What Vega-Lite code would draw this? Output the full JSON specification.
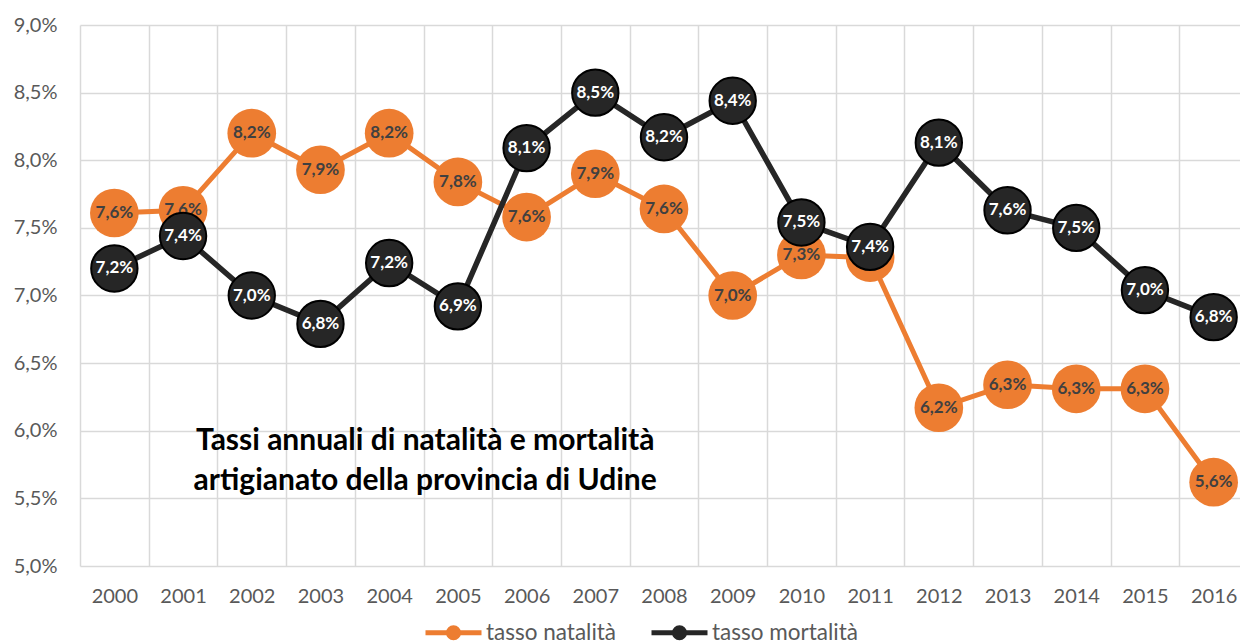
{
  "$schema": "https://vega.github.io/schema/vega-lite/v6.json",
  "width": 1160,
  "height": 541,
  "autosize": {"type": "none"},
  "padding": {"left": 80, "top": 25, "right": 0, "bottom": 77},
  "background": "white",
  "config": {
    "locale": {"number": {"decimal": ",", "thousands": ".", "grouping": [3], "currency": ["€", ""]}},
    "font": "Lato",
    "view": {"stroke": null},
    "axis": {"gridColor": "#D9D9D9", "gridWidth": 1.5, "domain": false, "ticks": false, "labelFont": "Lato", "labelFontSize": 20, "labelColor": "#595959", "title": null}
  },
  "data": {"values": [
    {"anno": "2000", "serie": "tasso natalità", "valore": 0.0761},
    {"anno": "2001", "serie": "tasso natalità", "valore": 0.0763},
    {"anno": "2002", "serie": "tasso natalità", "valore": 0.0820},
    {"anno": "2003", "serie": "tasso natalità", "valore": 0.0793},
    {"anno": "2004", "serie": "tasso natalità", "valore": 0.0820},
    {"anno": "2005", "serie": "tasso natalità", "valore": 0.0784},
    {"anno": "2006", "serie": "tasso natalità", "valore": 0.0758},
    {"anno": "2007", "serie": "tasso natalità", "valore": 0.0790},
    {"anno": "2008", "serie": "tasso natalità", "valore": 0.0764},
    {"anno": "2009", "serie": "tasso natalità", "valore": 0.0700},
    {"anno": "2010", "serie": "tasso natalità", "valore": 0.0730},
    {"anno": "2011", "serie": "tasso natalità", "valore": 0.0728},
    {"anno": "2012", "serie": "tasso natalità", "valore": 0.0617},
    {"anno": "2013", "serie": "tasso natalità", "valore": 0.0634},
    {"anno": "2014", "serie": "tasso natalità", "valore": 0.0631},
    {"anno": "2015", "serie": "tasso natalità", "valore": 0.0631},
    {"anno": "2016", "serie": "tasso natalità", "valore": 0.0562},
    {"anno": "2000", "serie": "tasso mortalità", "valore": 0.0720},
    {"anno": "2001", "serie": "tasso mortalità", "valore": 0.0744},
    {"anno": "2002", "serie": "tasso mortalità", "valore": 0.0700},
    {"anno": "2003", "serie": "tasso mortalità", "valore": 0.0679},
    {"anno": "2004", "serie": "tasso mortalità", "valore": 0.0724},
    {"anno": "2005", "serie": "tasso mortalità", "valore": 0.0692},
    {"anno": "2006", "serie": "tasso mortalità", "valore": 0.0809},
    {"anno": "2007", "serie": "tasso mortalità", "valore": 0.0850},
    {"anno": "2008", "serie": "tasso mortalità", "valore": 0.0817},
    {"anno": "2009", "serie": "tasso mortalità", "valore": 0.0844},
    {"anno": "2010", "serie": "tasso mortalità", "valore": 0.0754},
    {"anno": "2011", "serie": "tasso mortalità", "valore": 0.0736},
    {"anno": "2012", "serie": "tasso mortalità", "valore": 0.0813},
    {"anno": "2013", "serie": "tasso mortalità", "valore": 0.0763},
    {"anno": "2014", "serie": "tasso mortalità", "valore": 0.0750},
    {"anno": "2015", "serie": "tasso mortalità", "valore": 0.0704},
    {"anno": "2016", "serie": "tasso mortalità", "valore": 0.0684}
  ]},
  "encoding": {
    "x": {"field": "anno", "type": "ordinal",
      "scale": {"type": "band", "paddingInner": 0, "paddingOuter": 0, "range": [0, 1168]},
      "axis": {"grid": true, "tickBand": "extent", "labelAngle": 0, "labelPadding": 20}},
    "y": {"field": "valore", "type": "quantitative",
      "scale": {"domain": [0.05, 0.09], "zero": false, "nice": false},
      "axis": {"grid": true, "values": [0.05, 0.055, 0.06, 0.065, 0.07, 0.075, 0.08, 0.085, 0.09], "format": ".1%", "labelPadding": 23}}
  },
  "layer": [
    {
      "transform": [{"filter": "datum.serie === 'tasso natalità'"}],
      "mark": {"type": "line", "strokeWidth": 5},
      "encoding": {"color": {"field": "serie", "type": "nominal",
        "scale": {"domain": ["tasso natalità", "tasso mortalità"], "range": ["#ED7D31", "#262626"]},
        "legend": {"orient": "none", "legendX": 343, "legendY": 577, "direction": "horizontal", "title": null,
          "symbolType": "M-1,0L1,0M0.18,0A0.18,0.18,0,1,1,-0.18,0A0.18,0.18,0,1,1,0.18,0Z",
          "symbolSize": 3136, "symbolStrokeWidth": 5, "labelFontSize": 22.5, "labelColor": "#595959", "labelFont": "Lato",
          "labelOffset": 2, "columnPadding": 24, "padding": 0,
          "encode": {"symbols": {"update": {"fill": {"scale": "color", "field": "value"}, "stroke": {"scale": "color", "field": "value"}, "opacity": {"value": 1}}}}}}}
    },
    {
      "transform": [{"filter": "datum.serie === 'tasso natalità'"}],
      "mark": {"type": "point", "filled": true, "size": 2370, "color": "#ED7D31", "opacity": 1}
    },
    {
      "transform": [{"filter": "datum.serie === 'tasso natalità'"}],
      "mark": {"type": "text", "fontSize": 17, "fontWeight": "bold", "color": "#404040", "align": "center", "baseline": "middle"},
      "encoding": {"text": {"field": "valore", "type": "quantitative", "format": ".1%"}}
    },
    {
      "transform": [{"filter": "datum.serie === 'tasso mortalità'"}],
      "mark": {"type": "line", "strokeWidth": 5.5},
      "encoding": {"color": {"field": "serie", "type": "nominal"}}
    },
    {
      "transform": [{"filter": "datum.serie === 'tasso mortalità'"}],
      "mark": {"type": "point", "filled": true, "size": 2150, "fill": "#262626", "stroke": "#000000", "strokeWidth": 2, "opacity": 1}
    },
    {
      "transform": [{"filter": "datum.serie === 'tasso mortalità'"}],
      "mark": {"type": "text", "fontSize": 17, "fontWeight": "bold", "color": "#FFFFFF", "align": "center", "baseline": "middle"},
      "encoding": {"text": {"field": "valore", "type": "quantitative", "format": ".1%"}}
    },
    {
      "data": {"values": [{"anno": "2004", "valore": 0.05924}]},
      "mark": {"type": "text", "fontSize": 30, "fontWeight": "bold", "color": "#000000", "align": "center", "baseline": "middle", "lineHeight": 40, "dx": 36,
        "text": ["Tassi annuali di natalità e mortalità", "artigianato della provincia di Udine"]}
    }
  ]
}
